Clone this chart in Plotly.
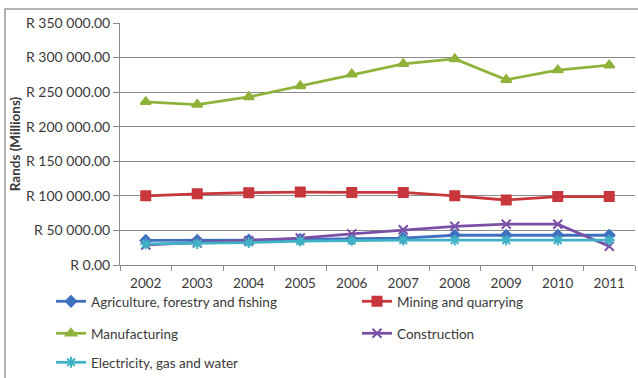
import plotly.graph_objects as go

years = ["2002", "2003", "2004", "2005", "2006", "2007", "2008", "2009", "2010", "2011"]

agriculture = [35500, 35500, 36000, 37000, 37500, 39000, 43000, 43000, 43000, 43000]
mining = [100000, 103000, 104500, 105500, 105000, 105000, 100000, 94000, 99000, 99000]
manufacturing = [236000, 232000, 243000, 259000, 276000, 291000, 298000, 268000, 282000, 289000]
construction = [29000, 32000, 35000, 39000, 45000, 51000, 56000, 59000, 59000, 27000]
electricity = [30500, 31000, 32500, 34500, 35500, 36000, 36000, 36000, 36000, 36000]

series_names = [
    "Agriculture, forestry and fishing",
    "Mining and quarrying",
    "Manufacturing",
    "Construction",
    "Electricity, gas and water",
]

y_tick_values = [0, 50000, 100000, 150000, 200000, 250000, 300000, 350000]
y_tick_labels = ["R 0.00", "R 50 000.00", "R 100 000.00", "R 150 000.00",
                 "R 200 000.00", "R 250 000.00", "R 300 000.00", "R 350 000.00"]

FONT = "Lato"
TEXT = "#3a3a3a"

# plot area spans 120..635 px horizontally, 23..265 px vertically
px_x = lambda p: (p - 120) / 515
px_y = lambda p: (265 - p) / 242

# one legend box per entry (top-left corner in pixels), two columns under the axis
legend_slots = [(51, 286), (357, 286), (51, 318), (357, 318), (51, 347)]

styles = [
    dict(color="#3f6fbf", symbol="diamond", size=8),
    dict(color="#c8373c", symbol="square", size=9),
    dict(color="#8fb33a", symbol="triangle-up", size=9),
    dict(color="#7a50a6", symbol="x-thin-open", size=9),
    dict(color="#3fb2c6", symbol="asterisk-open", size=9),
]
legend_ids = ["legend", "legend2", "legend3", "legend4", "legend5"]

fig = go.Figure()
for name, values, st, lid in zip(series_names,
                                 [agriculture, mining, manufacturing, construction, electricity],
                                 styles, legend_ids):
    fig.add_trace(go.Scatter(
        x=years, y=values, name=name, mode="lines+markers",
        line=dict(color=st["color"], width=2.8),
        marker=dict(symbol=st["symbol"], size=st["size"], color=st["color"],
                    line=dict(color=st["color"], width=2)),
        legend=lid,
    ))

legend_common = dict(
    orientation="h", xanchor="left", yanchor="top",
    font=dict(family=FONT, size=13.5, color=TEXT),
    bgcolor="rgba(0,0,0,0)", itemwidth=30,
)

legends = {lid: dict(**legend_common, x=px_x(sx), y=px_y(sy))
           for lid, (sx, sy) in zip(legend_ids, legend_slots)}

fig.update_layout(
    width=638, height=378,
    margin=dict(l=120, r=3, t=23, b=113, autoexpand=False),
    paper_bgcolor="white", plot_bgcolor="white",
    font=dict(family=FONT, size=12, color=TEXT),
    showlegend=True,
    **legends,
    xaxis=dict(
        type="category", showgrid=False, showline=True, linecolor="#8a8a8a", linewidth=1,
        ticks="outside", tickson="boundaries", ticklen=5, tickcolor="#8a8a8a",
        ticklabelstandoff=6,
        tickfont=dict(family=FONT, size=13.5, color=TEXT), range=[-0.5, 9.5],
    ),
    yaxis=dict(
        range=[0, 350000], tickvals=y_tick_values, ticktext=y_tick_labels,
        showgrid=True, gridcolor="#8c8c8c", gridwidth=1,
        showline=True, linecolor="#8a8a8a", linewidth=1,
        ticks="outside", ticklen=6, tickcolor="#8a8a8a",
        tickfont=dict(family=FONT, size=14, color=TEXT),
        title=dict(text="<b>Rands (Millions)</b>", font=dict(family=FONT, size=13.5, color=TEXT),
                   standoff=2),
        zeroline=False,
    ),
    shapes=[dict(type="rect", xref="paper", yref="paper",
                 x0=px_x(5), x1=px_x(700), y0=px_y(420), y1=px_y(9),
                 line=dict(color="#9a9a9a", width=1.5), fillcolor="rgba(0,0,0,0)",
                 layer="below")],
)

fig.write_html("out.html")
